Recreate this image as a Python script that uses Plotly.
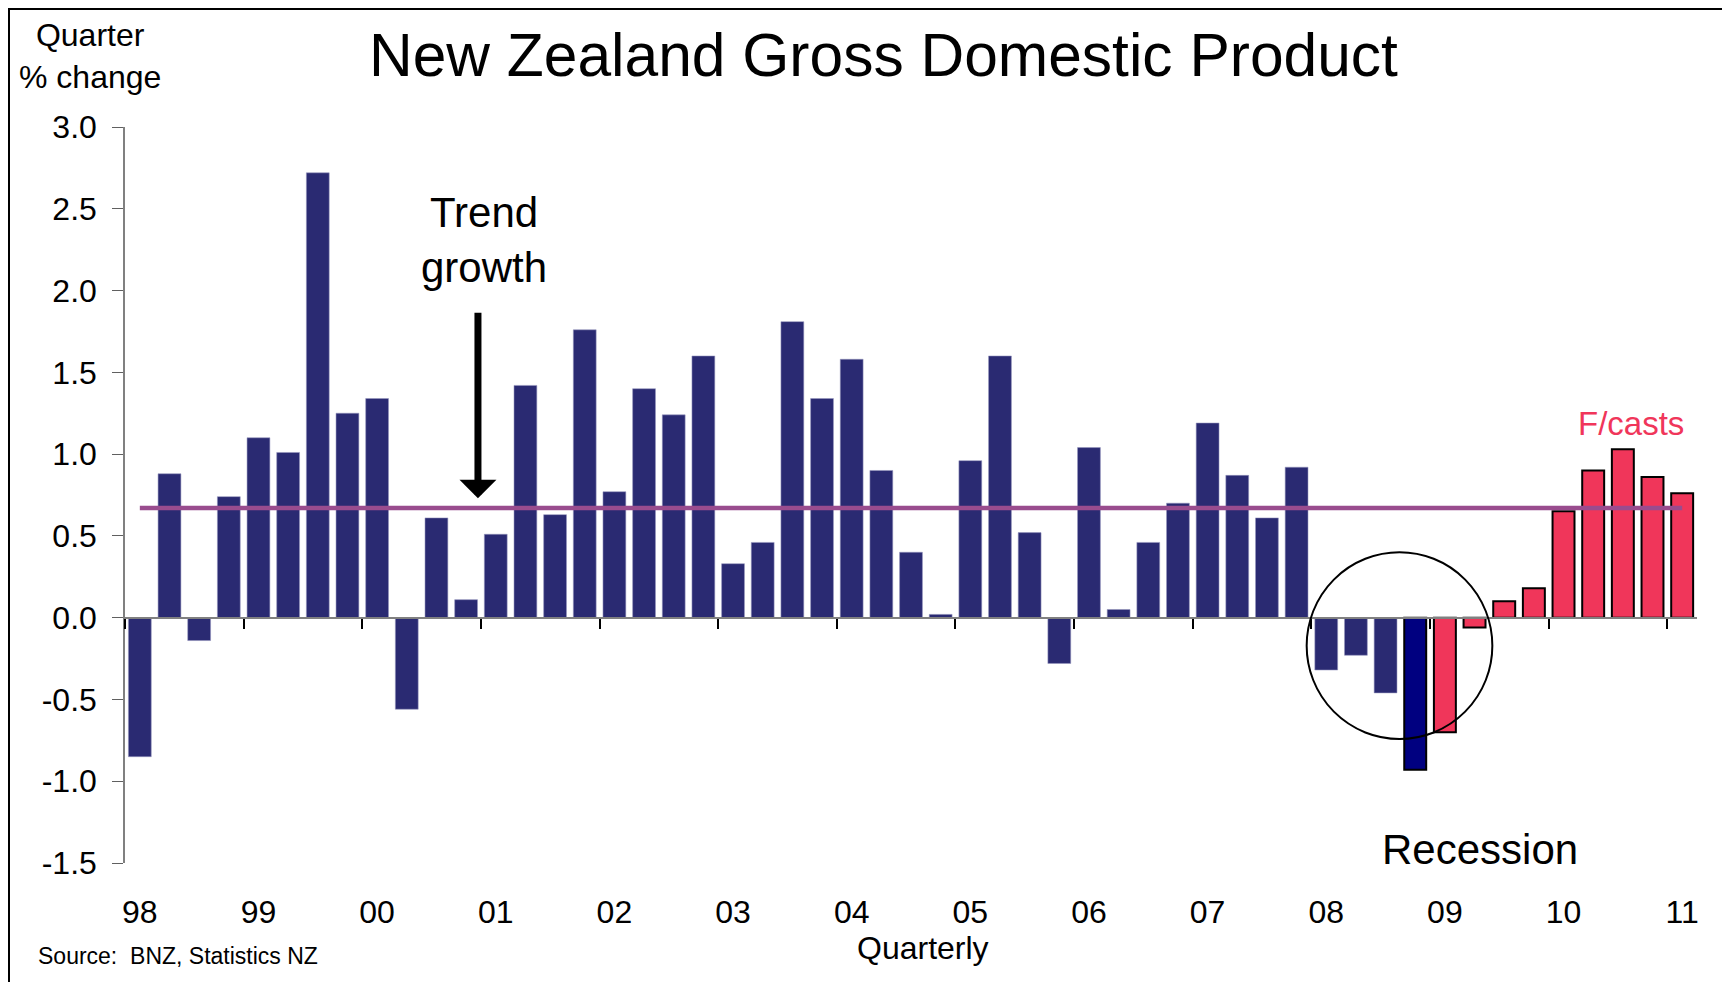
import plotly.graph_objects as go

# ---- data ----
years = ["98", "99", "00", "01", "02", "03", "04", "05", "06", "07", "08", "09", "10", "11"]
quarters = [f"{q}-{y}" for y in years for q in ["Mar", "Jun", "Sep", "Dec"]][:53]

gdp_change = [
    -0.85, 0.88, -0.14, 0.74,   # 1998
    1.10, 1.01, 2.72, 1.25,     # 1999
    1.34, -0.56, 0.61, 0.11,    # 2000
    0.51, 1.42, 0.63, 1.76,     # 2001
    0.77, 1.40, 1.24, 1.60,     # 2002
    0.33, 0.46, 1.81, 1.34,     # 2003
    1.58, 0.90, 0.40, 0.02,     # 2004
    0.96, 1.60, 0.52, -0.28,    # 2005
    1.04, 0.05, 0.46, 0.70,     # 2006
    1.19, 0.87, 0.61, 0.92,     # 2007
    -0.32, -0.23, -0.46, -0.93, # 2008
    -0.70, -0.06, 0.10, 0.18,   # 2009
    0.65, 0.90, 1.03, 0.86,     # 2010
    0.76,                       # 2011 Q1
]
latest_index = 43      # Dec-08, latest actual (highlighted)
trend_growth = 0.67

y_tickvals = [-1.5, -1.0, -0.5, 0.0, 0.5, 1.0, 1.5, 2.0, 2.5, 3.0]
y_ticktext = ["-1.5", "-1.0", "-0.5", "0.0", "0.5", "1.0", "1.5", "2.0", "2.5", "3.0"]

x_idx = list(range(len(quarters)))

ACTUAL = "#2A2A72"
LATEST = "#000080"
FCAST = "#F0365A"
TREND = "#994C8E"
FONT = "Liberation Sans, Arial, sans-serif"

# page body has an 8px margin: plot area is placed so that it lands at
# window pixels x 125..1697, y 127..863
L, T = 125 - 8, 127 - 8
PW, PH = 1572, 736
W, H = 1722, 974

fig = go.Figure()

fig.add_trace(go.Bar(
    x=x_idx[:latest_index], y=gdp_change[:latest_index], width=0.77,
    marker=dict(color=ACTUAL, line=dict(color="rgba(150,150,190,0.7)", width=0.8)),
    hovertext=quarters[:latest_index], showlegend=False,
))
fig.add_trace(go.Bar(
    x=[x_idx[latest_index]], y=[gdp_change[latest_index]], width=0.74,
    marker=dict(color=LATEST, line=dict(color="black", width=2)),
    hovertext=[quarters[latest_index]], showlegend=False,
))
fig.add_trace(go.Bar(
    x=x_idx[latest_index + 1:], y=gdp_change[latest_index + 1:], width=0.74,
    marker=dict(color=FCAST, line=dict(color="black", width=2)),
    hovertext=quarters[latest_index + 1:], showlegend=False,
))
fig.add_trace(go.Scatter(
    x=[x_idx[0], x_idx[-1]], y=[trend_growth, trend_growth], mode="lines",
    line=dict(color=TREND, width=4.5), showlegend=False, hoverinfo="skip",
))
# helper trace for the label axis
fig.add_trace(go.Scatter(
    x=[x_idx[0], x_idx[-1]], y=[0, 0], xaxis="x2", mode="markers",
    marker=dict(opacity=0), showlegend=False, hoverinfo="skip",
))

boundaries = [i - 0.5 for i in range(0, len(quarters), 4)]


def px(xw):
    return (xw - 125) / PW


def py(yw):
    return (863 - yw) / PH


fig.update_layout(
    width=W, height=H,
    margin=dict(l=L, r=W - L - PW, t=T, b=H - T - PH),
    paper_bgcolor="white", plot_bgcolor="white",
    barmode="overlay",
    font=dict(family=FONT, color="black"),
    xaxis=dict(
        range=[-0.5, 52.5], anchor="free", position=1.5 / 4.5,
        showline=True, linecolor="#808080", linewidth=2,
        ticks="outside", tickvals=boundaries, ticklen=10, tickwidth=1.5,
        tickcolor="black", showticklabels=False, showgrid=False, zeroline=False,
        fixedrange=True,
    ),
    xaxis2=dict(
        range=[-0.5, 52.5], overlaying="x", anchor="y", side="bottom",
        showline=False, ticks="", tickvals=list(range(0, len(quarters), 4)),
        ticktext=years, tickfont=dict(size=32, family=FONT, color="black"),
        ticklabelstandoff=27, showgrid=False, zeroline=False,
    ),
    yaxis=dict(
        range=[-1.5, 3.0], tickvals=y_tickvals, ticktext=y_ticktext,
        showline=True, linecolor="#808080", linewidth=1.5,
        ticks="outside", ticklen=11, tickcolor="#606060", tickwidth=1.2,
        tickfont=dict(size=32, family=FONT, color="black"),
        ticklabelstandoff=9, showgrid=False, zeroline=False,
    ),
    shapes=[
        dict(type="circle", xref="x", yref="y", x0=39.34, x1=45.6, y0=-0.742, y1=0.40,
             line=dict(color="black", width=2)),
        dict(type="rect", xref="paper", yref="paper",
             x0=px(9), x1=px(1723), y0=py(1000), y1=py(9),
             line=dict(color="black", width=2)),
    ],
    annotations=[
        dict(text="New Zealand Gross Domestic Product", xref="paper", yref="paper",
             x=px(883), y=py(55), showarrow=False,
             font=dict(size=60.5, family=FONT, color="black"), xanchor="center", yanchor="middle"),
        dict(text="Quarter<br>% change", xref="paper", yref="paper",
             x=px(90), y=py(56), showarrow=False, align="center",
             font=dict(size=32, family=FONT, color="black"), xanchor="center", yanchor="middle"),
        dict(text="Trend<br>growth", xref="x", yref="y", x=11.6, y=2.31, showarrow=False,
             align="center", font=dict(size=42, family=FONT, color="black"),
             xanchor="center", yanchor="middle"),
        dict(text="", xref="x", yref="y", x=11.4, y=0.73, ax=0, ay=-187,
             showarrow=True, arrowhead=1, arrowwidth=7, arrowsize=0.88, arrowcolor="black"),
        dict(text="Recession", xref="x", yref="y", x=45.2, y=-1.42, showarrow=False,
             font=dict(size=42, family=FONT, color="black"), xanchor="center", yanchor="middle"),
        dict(text="F/casts", xref="x", yref="y", x=50.28, y=1.188, showarrow=False,
             font=dict(size=33, family=FONT, color=FCAST), xanchor="center", yanchor="middle"),
        dict(text="Quarterly", xref="paper", yref="paper",
             x=px(922.6), y=py(948), showarrow=False,
             font=dict(size=32, family=FONT, color="black"), xanchor="center", yanchor="middle"),
        dict(text="Source:\u00a0\u00a0BNZ, Statistics NZ", xref="paper", yref="paper",
             x=px(36), y=py(956), showarrow=False,
             font=dict(size=23, family=FONT, color="black"), xanchor="left", yanchor="middle"),
    ],
)

fig.write_html("out.html")
